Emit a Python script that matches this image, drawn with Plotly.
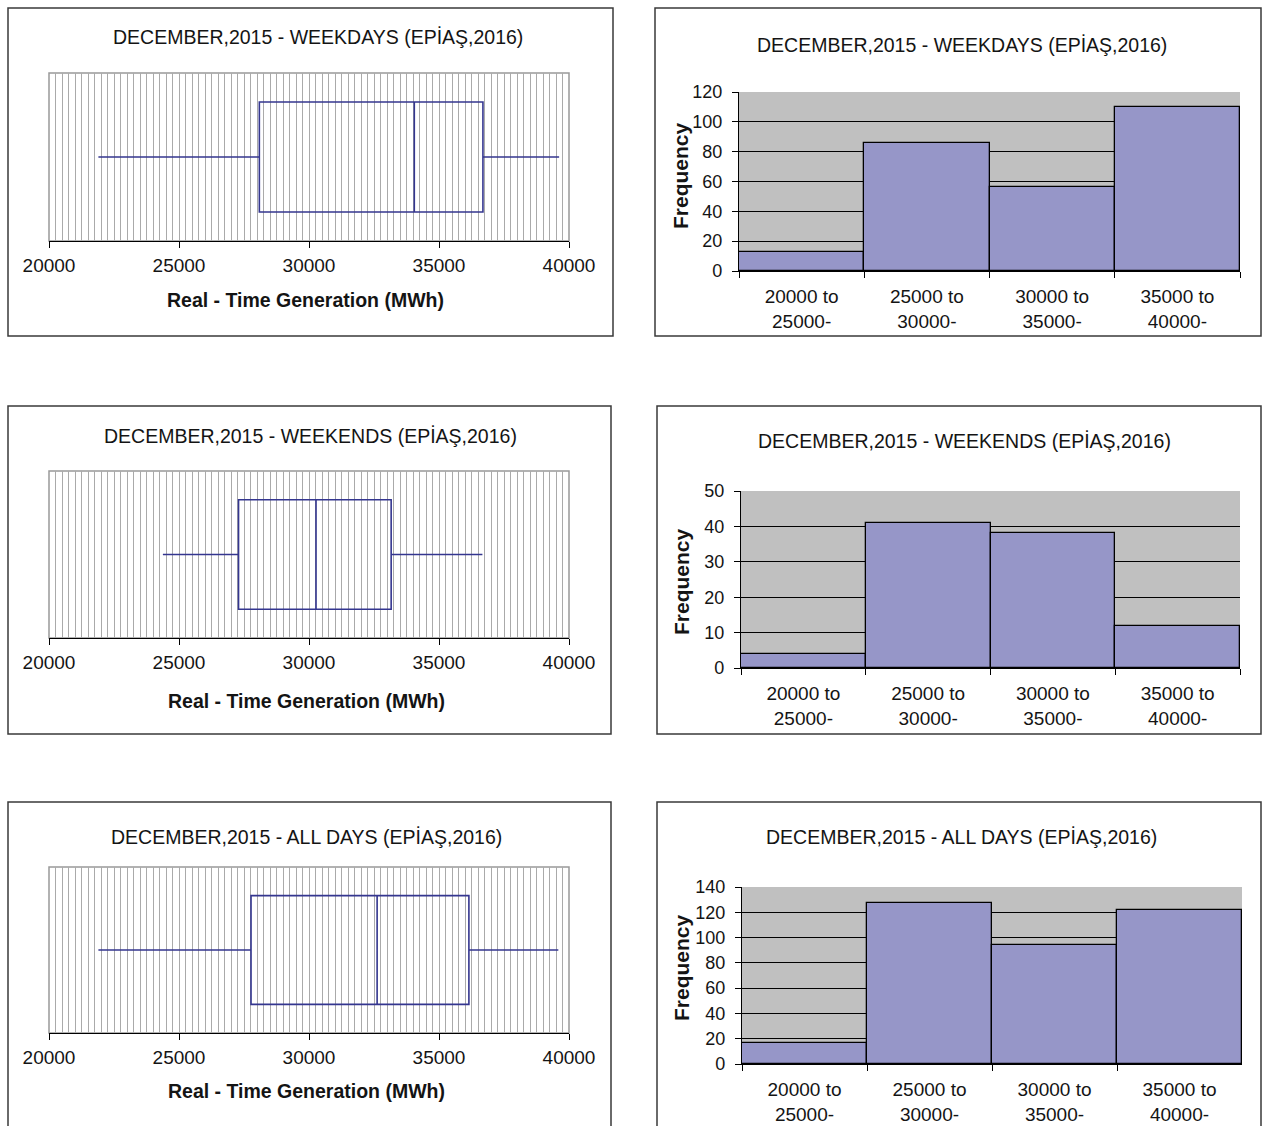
import plotly.graph_objects as go

W, H = 1263, 1126

# ---------------- data ----------------
titles = ["DECEMBER,2015 - WEEKDAYS (EPİAŞ,2016)",
          "DECEMBER,2015 - WEEKENDS (EPİAŞ,2016)",
          "DECEMBER,2015 - ALL DAYS (EPİAŞ,2016)"]

# box plot statistics (MWh)
box_min = [21900, 24380, 21900]
box_q1 = [28090, 27290, 27770]
box_median = [34050, 30270, 32620]
box_q3 = [36690, 33160, 36150]
box_max = [39620, 36670, 39590]

x_tick_values = [20000, 25000, 30000, 35000, 40000]
x_title = "Real - Time Generation (MWh)"

# histograms
hist_categories = ["20000 to<br>25000-", "25000 to<br>30000-",
                   "30000 to<br>35000-", "35000 to<br>40000-"]
freq_weekdays = [13, 86, 56, 110]
freq_weekends = [4, 41, 38, 12]
freq_alldays = [17, 127, 94, 122]
freqs = [freq_weekdays, freq_weekends, freq_alldays]
hist_ymax = [120, 50, 140]
hist_dtick = [20, 10, 20]
y_title = "Frequency"

# ---------------- geometry (pixels) ----------------
box_plot_px = [(49, 569, 73, 241), (49, 569, 471, 638), (49, 569, 867, 1033)]
hist_plot_px = [(739, 1240, 92, 271), (741, 1240, 491, 668), (742, 1242, 887, 1064)]
left_panel_px = [(8, 613, 8, 336), (8, 611, 406, 734), (8, 611, 802, 1132)]
right_panel_px = [(655, 1261, 8, 336), (657, 1261, 406, 734), (657, 1261, 802, 1132)]
box_title_px = [(318, 37), (310, 436), (306, 837)]
hist_title_px = [(962, 45), (964, 441), (962, 837)]
xtitle_px = [(305, 300), (306, 701), (306, 1091)]
freq_px = [(681, 176), (681, 582), (681, 968)]

FONT = "Liberation Sans, Arial, sans-serif"
TXT = "#141414"


def px_x(x):
    return x / W


def px_y(y):
    return 1 - y / H


fig = go.Figure()
layout = dict(
    width=W, height=H, autosize=False,
    margin=dict(l=0, r=0, t=0, b=0, pad=0),
    paper_bgcolor="white", plot_bgcolor="white",
    showlegend=False, bargap=0,
    font=dict(family=FONT, color=TXT),
)
shapes = []
annotations = []

for i in range(3):
    # ---- box plot subplot ----
    ax = 2 * i + 1
    xa = "x" if ax == 1 else f"x{ax}"
    ya = "y" if ax == 1 else f"y{ax}"
    x0, x1, yt, yb = box_plot_px[i]
    fig.add_trace(go.Box(
        y=[0], q1=[box_q1[i]], median=[box_median[i]], q3=[box_q3[i]],
        lowerfence=[box_min[i]], upperfence=[box_max[i]],
        orientation="h", width=0.655, whiskerwidth=0, boxpoints=False,
        fillcolor="rgba(0,0,0,0)", line=dict(color="#34368f", width=1.6),
        xaxis=xa, yaxis=ya, hoverinfo="skip",
    ))
    layout[f"xaxis{ax}"] = dict(
        domain=[px_x(x0), px_x(x1)], anchor=ya, range=[20000, 40000],
        tickvals=x_tick_values, tickformat="d", automargin=False,
        ticks="outside", ticklen=6, tickcolor="black",
        showline=True, linecolor="black", linewidth=1.2,
        showgrid=True, gridcolor="#aaaaaa", gridwidth=1,
        minor=dict(dtick=250, showgrid=True, gridcolor="#aaaaaa", gridwidth=1),
        tickfont=dict(size=19, family=FONT, color=TXT),
        ticklabelstandoff=1, zeroline=False, fixedrange=True,
    )
    layout[f"yaxis{ax}"] = dict(
        domain=[px_y(yb), px_y(yt)], anchor=xa, range=[-0.5, 0.5],
        visible=False, showgrid=False, zeroline=False, fixedrange=True,
        automargin=False,
    )
    shapes.append(dict(type="rect", xref=f"{xa} domain", yref=f"{ya} domain",
                       x0=0, x1=1, y0=0, y1=1, layer="below",
                       line=dict(color="#999999", width=1.5)))

    # ---- histogram subplot ----
    ah = 2 * i + 2
    xh = f"x{ah}"
    yh = f"y{ah}"
    hx0, hx1, hyt, hyb = hist_plot_px[i]
    fig.add_trace(go.Bar(
        x=hist_categories, y=freqs[i],
        marker=dict(color="#9696c8", line=dict(color="black", width=1.3)),
        xaxis=xh, yaxis=yh, hoverinfo="skip",
    ))
    layout[f"xaxis{ah}"] = dict(
        domain=[px_x(hx0), px_x(hx1)], anchor=yh, type="category",
        tickson="boundaries", ticks="outside", ticklen=6, tickcolor="black",
        showline=True, linecolor="black", linewidth=1.2, showgrid=False,
        tickfont=dict(size=19, family=FONT, color=TXT), automargin=False,
        ticklabelstandoff=8, fixedrange=True,
    )
    layout[f"yaxis{ah}"] = dict(
        domain=[px_y(hyb), px_y(hyt)], anchor=xh, range=[0, hist_ymax[i]],
        dtick=hist_dtick[i], ticks="outside", ticklen=6, tickcolor="black",
        showline=True, linecolor="black", linewidth=1.2,
        showgrid=True, gridcolor="black", gridwidth=1.2, zeroline=False,
        tickfont=dict(size=18, family=FONT, color=TXT), automargin=False,
        ticklabelstandoff=6, fixedrange=True,
    )
    shapes.append(dict(type="rect", xref=f"{xh} domain", yref=f"{yh} domain",
                       x0=0, x1=1, y0=0, y1=1, layer="below",
                       fillcolor="#c0c0c0", line=dict(width=0)))

    # ---- panel frames ----
    for (px0, px1, pyt, pyb) in (left_panel_px[i], right_panel_px[i]):
        shapes.append(dict(type="rect", xref="paper", yref="paper",
                           x0=px_x(px0), x1=px_x(px1), y0=px_y(pyb), y1=px_y(pyt),
                           line=dict(color="#3a3a3a", width=1.5),
                           fillcolor="rgba(0,0,0,0)", layer="above"))

    # ---- texts ----
    for (cx, cy) in (box_title_px[i], hist_title_px[i]):
        annotations.append(dict(text=titles[i], x=px_x(cx), y=px_y(cy),
                                xref="paper", yref="paper", showarrow=False,
                                xanchor="center", yanchor="middle",
                                font=dict(size=19.5, family=FONT, color=TXT)))
    annotations.append(dict(text=f"<b>{x_title}</b>", x=px_x(xtitle_px[i][0]),
                            y=px_y(xtitle_px[i][1]), xref="paper", yref="paper",
                            showarrow=False, xanchor="center", yanchor="middle",
                            font=dict(size=19.5, family=FONT, color=TXT)))
    annotations.append(dict(text=f"<b>{y_title}</b>", x=px_x(freq_px[i][0]),
                            y=px_y(freq_px[i][1]), xref="paper", yref="paper",
                            showarrow=False, xanchor="center", yanchor="middle",
                            textangle=-90,
                            font=dict(size=21, family=FONT, color=TXT)))

layout["shapes"] = shapes
layout["annotations"] = annotations
fig.update_layout(**layout)
fig.write_html("out.html", config={"displayModeBar": False},
               post_script="document.body.style.margin='0';document.body.style.overflow='hidden';")
